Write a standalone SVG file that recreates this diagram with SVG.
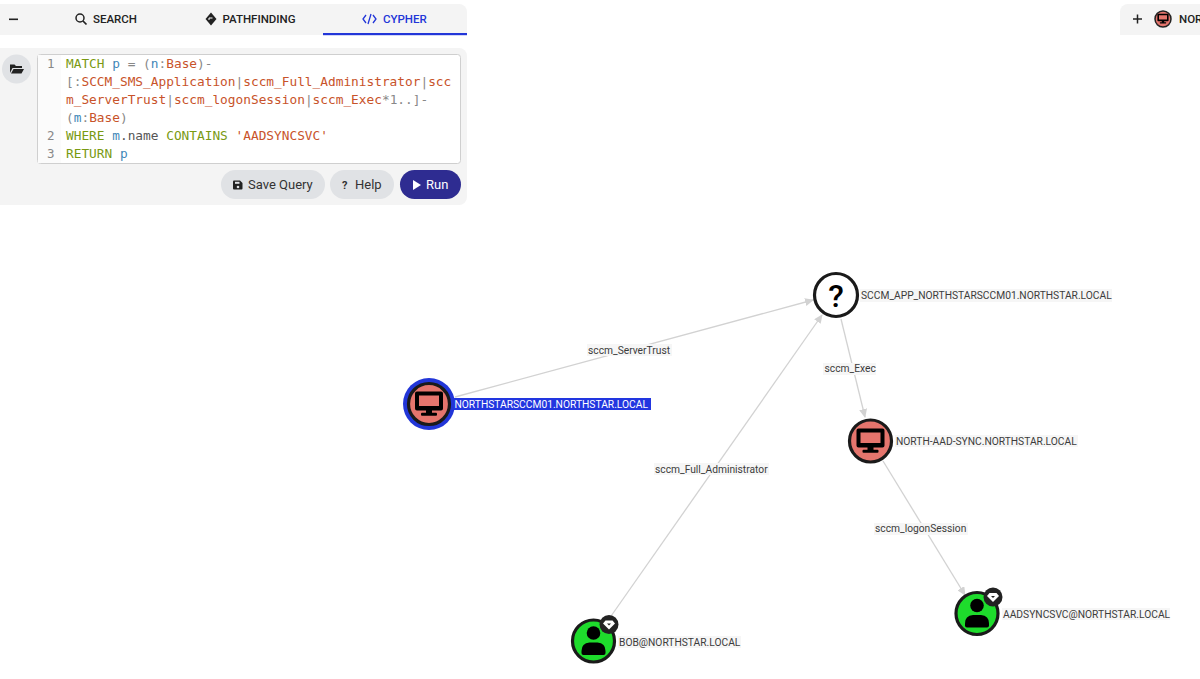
<svg xmlns="http://www.w3.org/2000/svg" width="1200" height="679" viewBox="0 0 1200 679">
<style>
.ui{font-family:Roboto,"Liberation Sans",sans-serif}
.tab{font-size:11.5px;font-weight:500;fill:#222}
.code{font-family:"DejaVu Sans Mono","Liberation Mono",monospace;font-size:12.8px}
.kw{fill:#7a9a12}.var{fill:#3f87b8}.red{fill:#c8532a}.gr{fill:#888}.dk{fill:#555}
.ln{font-family:"DejaVu Sans Mono",monospace;font-size:12.5px;fill:#888}
.btn{font-family:Roboto,sans-serif;font-size:13px;fill:#333}
.lbl{font-family:Roboto,"Liberation Sans",sans-serif;font-size:10.25px;fill:#3c3c3c}
.lblbg{fill:#f6f6f6}
.edge{stroke:#d2d2d2;stroke-width:1.3;fill:none;marker-end:url(#arr)}
.ring{stroke:#1a1a1a;stroke-width:3.2}
.pc{fill:#e5756d}.usr{fill:#1edc2c}
</style>
<defs>
<marker id="arr" markerUnits="userSpaceOnUse" markerWidth="9" markerHeight="8" refX="8" refY="4" orient="auto"><path d="M0,0 L9,4 L0,8 Z" fill="#d2d2d2"/></marker>
<g id="mon"><path d="M-12,-12 h24 a2,2 0 0 1 2,2 v15 a2,2 0 0 1 -2,2 h-24 a2,2 0 0 1 -2,-2 v-15 a2,2 0 0 1 2,-2 Z M-10,-8 v10.500 h20 v-10.500 Z" fill="#000" fill-rule="evenodd"/><rect x="-3" y="6" width="6" height="5" fill="#000"/><rect x="-8" y="9.300" width="16" height="3" rx="1" fill="#000"/></g>
<g id="per"><circle cx="0" cy="-8" r="6.800" fill="#000"/><path d="M-12,12 v-2 q0,-8 8,-8.500 h8 q8,.5 8,8.500 v2 q0,2 -2,2 h-20 q-2,0 -2,-2 Z" fill="#000"/></g>
<g id="gem"><circle r="9.500" fill="#222"/><path d="M-3.500,-4 h7 l2.500,3 l-6,6 l-6,-6 Z" fill="#fff"/><path d="M-2,-1 h4 l-2,2 Z" fill="#222"/></g>
</defs>

<g id="panel-tabs">
<path d="M0,4 H459 a8,8 0 0 1 8,8 V35 H0 Z" fill="#f4f4f4"/>
<rect x="323" y="33" width="144" height="2.200" fill="#2236d8"/>
<rect x="9" y="18.500" width="9" height="1.600" fill="#222"/>
<circle cx="80" cy="18" r="4" fill="none" stroke="#222" stroke-width="1.500"/><path d="M83,21 L86.500,24.500" stroke="#222" stroke-width="1.700"/>
<text x="93" y="23" class="ui tab">SEARCH</text>
<path d="M211,12.500 L216.500,19 L211,25.500 L205.500,19 Z" fill="#222"/><path d="M209,20 v-2 h3.500" fill="none" stroke="#fff" stroke-width="1"/>
<text x="222.500" y="23" class="ui tab">PATHFINDING</text>
<path d="M366,15 L363,19 L366,23 M373,15 L376,19 L373,23 M371,14 L368,24" fill="none" stroke="#2236d8" stroke-width="1.300"/>
<text x="383" y="23" class="ui tab" style="fill:#2236d8">CYPHER</text>
</g>

<g id="panel-query">
<path d="M0,48 H459 a8,8 0 0 1 8,8 V197 a8,8 0 0 1 -8,8 H0 Z" fill="#f4f4f4"/>
<circle cx="16.500" cy="69" r="14.500" fill="#e0e2e5"/>
<path d="M10,64.500 h4.500 l1.500,1.500 h6 v2 h-9.500 l-2.500,5 Z M13.500,69 h10.500 l-2.500,4.500 h-10.500 Z" fill="#222"/>
<rect x="37.500" y="54.500" width="423" height="109" rx="3" fill="#fff" stroke="#cfcfcf"/>
<rect x="38" y="55" width="23" height="108" fill="#fbfbfb"/>
<text x="47" y="68" class="ln">1</text><text x="47" y="140" class="ln">2</text><text x="47" y="158" class="ln">3</text>
<text x="66" y="68" class="code"><tspan class="kw">MATCH</tspan><tspan class="var"> p</tspan><tspan class="gr"> = (</tspan><tspan class="var">n</tspan><tspan class="gr">:</tspan><tspan class="red">Base</tspan><tspan class="gr">)-</tspan></text>
<text x="66" y="86" class="code"><tspan class="gr">[:</tspan><tspan class="red">SCCM_SMS_Application</tspan><tspan class="gr">|</tspan><tspan class="red">sccm_Full_Administrator</tspan><tspan class="gr">|</tspan><tspan class="red">scc</tspan></text>
<text x="66" y="104" class="code"><tspan class="red">m_ServerTrust</tspan><tspan class="gr">|</tspan><tspan class="red">sccm_logonSession</tspan><tspan class="gr">|</tspan><tspan class="red">sccm_Exec</tspan><tspan class="gr">*1..]-</tspan></text>
<text x="66" y="122" class="code"><tspan class="gr">(</tspan><tspan class="var">m</tspan><tspan class="gr">:</tspan><tspan class="red">Base</tspan><tspan class="gr">)</tspan></text>
<text x="66" y="140" class="code"><tspan class="kw">WHERE</tspan><tspan class="var"> m</tspan><tspan class="dk">.name </tspan><tspan class="kw">CONTAINS</tspan><tspan class="red"> 'AADSYNCSVC'</tspan></text>
<text x="66" y="158" class="code"><tspan class="kw">RETURN</tspan><tspan class="var"> p</tspan></text>
<rect x="221" y="170" width="104" height="29" rx="14.500" fill="#e0e2e5"/>
<path d="M234,180.500 h6 l2.500,2.500 v5.500 a1,1 0 0 1 -1,1 h-7.500 a1,1 0 0 1 -1,-1 v-7 a1,1 0 0 1 1,-1 Z" fill="#222"/><rect x="235" y="181.800" width="4.500" height="2" fill="#e0e2e5"/><circle cx="238" cy="187" r="1.300" fill="#e0e2e5"/>
<text x="248" y="189" class="btn">Save Query</text>
<rect x="330" y="170" width="64" height="29" rx="14.500" fill="#e0e2e5"/>
<text x="342" y="189" class="btn" style="font-size:11px;font-weight:700">?</text>
<text x="355" y="189" class="btn">Help</text>
<rect x="400" y="170" width="61" height="29" rx="14.500" fill="#2e2c91"/>
<path d="M413,180 L421,185 L413,190 Z" fill="#fff"/>
<text x="426" y="189" class="btn" style="fill:#fff">Run</text>
</g>

<g id="panel-right">
<path d="M1200,4 H1128 a8,8 0 0 0 -8,8 V35 H1200 Z" fill="#f4f4f4"/>
<path d="M1133,19 h9 M1137.500,14.500 v9" stroke="#222" stroke-width="1.500"/>
<circle cx="1163" cy="19" r="8" fill="#e5756d" stroke="#222" stroke-width="1.500"/>
<use href="#mon" transform="translate(1163,18.500) scale(.4)"/>
<text x="1179" y="23" class="ui tab">NOR</text>
</g>

<g id="connectors">
<line class="edge" x1="455" y1="397" x2="813" y2="300"/>
<line class="edge" x1="609" y1="619" x2="822" y2="315"/>
<line class="edge" x1="841" y1="319" x2="865" y2="417"/>
<line class="edge" x1="883" y1="461" x2="965" y2="595"/>
<g id="edge-labels">
<rect class="lblbg" x="587" y="344" width="85" height="12"/><text class="lbl" x="588" y="353.500">sccm_ServerTrust</text>
<rect class="lblbg" x="654" y="463" width="115" height="12"/><text class="lbl" x="655" y="472.500">sccm_Full_Administrator</text>
<rect class="lblbg" x="823" y="363" width="53" height="12"/><text class="lbl" x="824.500" y="372">sccm_Exec</text>
<rect class="lblbg" x="874" y="523" width="94" height="12"/><text class="lbl" x="875" y="532">sccm_logonSession</text>
</g>
</g>

<g id="node-northstarsccm01">
<circle cx="429" cy="404" r="26" fill="#2236d8"/>
<circle cx="429" cy="404" r="20.500" class="pc ring"/>
<use href="#mon" transform="translate(429,403.500)"/>
<rect x="454" y="398" width="197" height="12" fill="#2236e0"/>
<text class="lbl" x="454.500" y="407.500" style="fill:#fff">NORTHSTARSCCM01.NORTHSTAR.LOCAL</text>
</g>

<g id="node-sccm-app">
<circle cx="836" cy="295" r="21.500" fill="#fff" class="ring"/>
<text x="836" y="307" text-anchor="middle" style="font-family:Roboto,sans-serif;font-size:32px;font-weight:500">?</text>
<rect x="860" y="289" width="252" height="13" class="lblbg"/>
<text class="lbl" x="861" y="298.500">SCCM_APP_NORTHSTARSCCM01.NORTHSTAR.LOCAL</text>
</g>

<g id="node-north-aad-sync">
<circle cx="870.500" cy="441" r="21" class="pc ring"/>
<use href="#mon" transform="translate(870.500,440.500)"/>
<rect x="895" y="435" width="183" height="12" class="lblbg"/>
<text class="lbl" x="896" y="444.500">NORTH-AAD-SYNC.NORTHSTAR.LOCAL</text>
</g>

<g id="node-bob">
<circle cx="593.500" cy="641" r="21" class="usr ring"/>
<use href="#per" transform="translate(593.500,641)"/>
<use href="#gem" transform="translate(609,624.500)"/>
<rect x="618" y="636" width="123" height="12" class="lblbg"/>
<text class="lbl" x="619" y="645.500">BOB@NORTHSTAR.LOCAL</text>
</g>

<g id="node-aadsyncsvc">
<circle cx="977" cy="613.500" r="21" class="usr ring"/>
<use href="#per" transform="translate(977,613.500)"/>
<use href="#gem" transform="translate(993,597)"/>
<rect x="1002" y="608" width="168" height="12" class="lblbg"/>
<text class="lbl" x="1003" y="617.500">AADSYNCSVC@NORTHSTAR.LOCAL</text>
</g>
</svg>
